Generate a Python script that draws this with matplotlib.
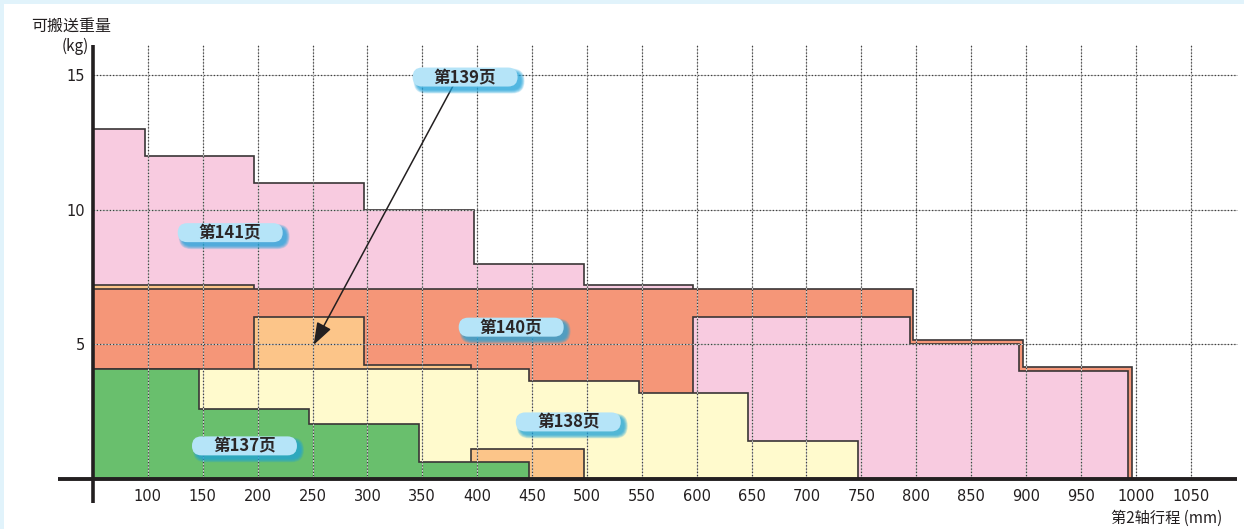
import matplotlib
matplotlib.use("Agg")
import matplotlib.pyplot as plt
from matplotlib.patches import Polygon, FancyBboxPatch, Rectangle
from matplotlib.transforms import IdentityTransform

plt.rcParams['font.family'] = ['DejaVu Sans', 'Noto Sans CJK SC']

# ---------------- data ----------------
x_ticks = [100, 150, 200, 250, 300, 350, 400, 450, 500, 550, 600, 650, 700,
           750, 800, 850, 900, 950, 1000, 1050]
y_ticks = [5, 10, 15]

# page 141 (left part) : stroke edges (mm) and payload (kg)
p141_edges = [50, 97, 197, 297, 397, 497, 597]
p141_kg = [13, 12, 11, 10, 8, 7.2]
# page 141 (right part)
p141r_edges = [597, 794, 894, 993]
p141r_kg = [6, 5, 4]
# page 140
p140_edges = [50, 797, 897, 997]
p140_kg = [7.05, 5.15, 4.15]
# page 139
p139_edges = [50, 197, 297, 394, 497]
p139_kg = [7.2, 6, 4.25, 1.1]
# page 138
p138_edges = [50, 447, 547, 647, 747]
p138_kg = [4.1, 3.65, 3.2, 1.4]
# page 137
p137_edges = [50, 147, 247, 347, 447]
p137_kg = [4.1, 2.6, 2.05, 0.65]

labels = ["第141页", "第140页", "第139页", "第138页", "第137页"]
label_pos = [(175, 9.15), (431, 5.64), (389, 14.93), (483, 2.12), (188, 1.23)]
arrow_from = (378, 14.6)
arrow_to = (251, 4.98)

C_PINK = "#f8cbe0"
C_SALMON = "#f59678"
C_LORANGE = "#fcc589"
C_YELLOW = "#fffacd"
C_GREEN = "#69bf6d"
EDGE = "#3a3536"

W, H = 1244, 529
fig = plt.figure(figsize=(W / 100, H / 100), dpi=100)
fig.patch.set_facecolor("white")

# light blue frame strips (top & left)
fig.add_artist(Rectangle((0, 1 - 4 / H), 1, 4 / H, transform=fig.transFigure,
                         color="#e1f3fb", lw=0, zorder=0))
fig.add_artist(Rectangle((0, 0), 4 / W, 1, transform=fig.transFigure,
                         color="#e1f3fb", lw=0, zorder=0))

ax = fig.add_axes([93 / W, 50 / H, 1147 / W, 434 / H])
ax.set_facecolor("none")
ax.set_xlim(50, 1095)
ax.set_ylim(0, 16.12)
for s in ax.spines.values():
    s.set_visible(False)


def steps(edges, kg):
    v = [(edges[0], 0)]
    for i, h in enumerate(kg):
        v.append((edges[i], h))
        v.append((edges[i + 1], h))
    v.append((edges[-1], 0))
    return v


def fill(edges, kg, color, z):
    ax.add_patch(Polygon(steps(edges, kg), closed=True, facecolor=color,
                         edgecolor=EDGE, lw=1.2, zorder=z, joinstyle="miter"))


fill(p141_edges, p141_kg, C_PINK, 1)
fill(p139_edges[:2], p139_kg[:1], C_LORANGE, 2)
fill(p140_edges, p140_kg, C_SALMON, 3)
fill(p141r_edges, p141r_kg, C_PINK, 4)
fill(p139_edges[1:4], p139_kg[1:3], C_LORANGE, 5)
fill(p138_edges, p138_kg, C_YELLOW, 6)
fill(p139_edges[3:5], p139_kg[3:4], C_LORANGE, 7)
fill(p137_edges, p137_kg, C_GREEN, 8)

# grid
for x in x_ticks:
    ax.plot([x, x], [0, 16.12], color="#c9c9c9", lw=0.7, zorder=9)
    ax.plot([x, x], [0, 16.12], color="#404040", lw=0.9, ls=(0, (1, 1.6)), zorder=9)
for y in y_ticks:
    ax.plot([50, 1092], [y, y], color="#c9c9c9", lw=0.7, zorder=9)
    ax.plot([50, 1092], [y, y], color="#404040", lw=0.9, ls=(0, (1, 1.6)), zorder=9)

# axes lines
ax.plot([50, 50], [-0.9, 16.12], color="#231f20", lw=2.6, zorder=12,
        clip_on=False, solid_capstyle="butt")
ax.plot([18, 1092], [0, 0], color="#231f20", lw=2.8, zorder=12,
        clip_on=False, solid_capstyle="butt")

ax.set_xticks(x_ticks)
ax.set_xticklabels([str(v) for v in x_ticks], fontsize=10.5, color="#231f20")
ax.set_yticks(y_ticks)
ax.set_yticklabels([str(v) for v in y_ticks], fontsize=10.5, color="#231f20")
ax.tick_params(axis="x", length=0, pad=7)
ax.tick_params(axis="y", length=0, pad=6)

# arrow
ax.annotate("", xy=arrow_to, xytext=arrow_from, zorder=13,
            arrowprops=dict(arrowstyle="-|>,head_length=0.85,head_width=0.3",
                            color="#231f20", lw=1.1, mutation_scale=16,
                            shrinkA=0, shrinkB=0))

# axis titles
cjk = ["Noto Sans CJK SC", "DejaVu Sans"]
fig.text(31 / W, 1 - 26 / H, "可搬送重量", family=cjk, fontsize=11.5,
         ha="left", va="center", color="#231f20")
fig.text(89 / W, 1 - 46 / H, "(kg)", family=cjk, fontsize=11,
         ha="right", va="center", color="#231f20")
fig.text(1222 / W, 1 - 518 / H, "第2轴行程 (mm)", family=cjk, fontsize=11,
         ha="right", va="center", color="#231f20")

# badges
fig.canvas.draw()
bw, bh, r = 105, 19, 9.5
for text, (dx, dy) in zip(labels, label_pos):
    cx, cy = ax.transData.transform((dx, dy))
    x0, y0 = cx - bw / 2, cy - bh / 2
    # soft blurred shadow
    for k in range(8):
        g = 6 - k  # grow
        fig.add_artist(FancyBboxPatch(
            (x0 + 4 - g / 2, y0 - 4 - g / 2), bw + g, bh + g,
            boxstyle=f"round,pad=0,rounding_size={r + g / 2}",
            transform=IdentityTransform(),
            facecolor="#1ea3db", edgecolor="none", alpha=0.16, zorder=20))
    fig.add_artist(FancyBboxPatch(
        (x0, y0), bw, bh, boxstyle=f"round,pad=0,rounding_size={r}",
        transform=IdentityTransform(), facecolor="#b5e4f8", edgecolor="none", zorder=21))
    fig.text(cx / W, cy / H, text, family=cjk, fontsize=12, fontweight="bold",
             ha="center", va="center", color="#2b2627", zorder=22)

fig.savefig("out.png", dpi=100)
